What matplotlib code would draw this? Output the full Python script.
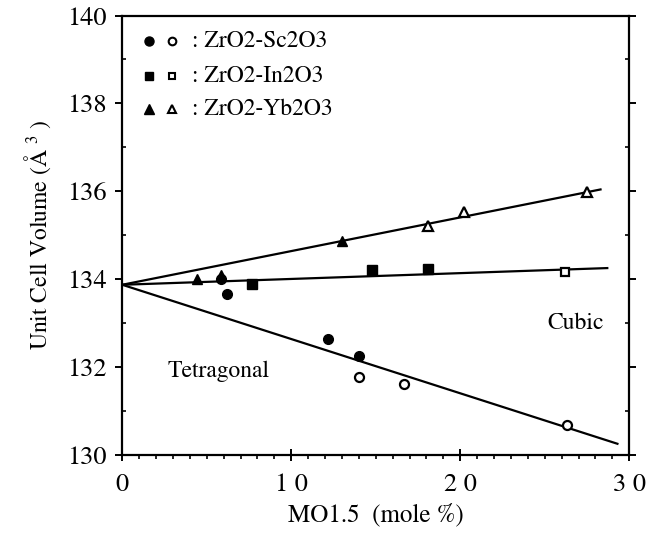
"""Unit cell volume vs MO1.5 content for ZrO2-based solid solutions."""
import matplotlib
matplotlib.use("Agg")
import matplotlib.pyplot as plt
from matplotlib.ticker import MultipleLocator

plt.rcParams["font.family"] = ["STIXGeneral", "Liberation Serif", "DejaVu Serif"]
plt.rcParams["mathtext.fontset"] = "stix"

# points (filled / open symbols)
SC_FILLED_X = [5.85, 6.2, 12.2, 14.0]
SC_FILLED_Y = [134.00, 133.67, 132.64, 132.25]
SC_OPEN_X = [14.0, 16.7, 26.3]
SC_OPEN_Y = [131.77, 131.60, 130.68]

IN_FILLED_X = [7.7, 14.8, 18.1]
IN_FILLED_Y = [133.89, 134.20, 134.22]
IN_OPEN_X = [26.2]
IN_OPEN_Y = [134.17]

YB_FILLED_X = [4.4, 5.85, 13.0]
YB_FILLED_Y = [133.99, 134.10, 134.86]
YB_OPEN_X = [18.1, 20.2, 27.5]
YB_OPEN_Y = [135.20, 135.52, 135.98]

# fitted lines: start and end points
YB_LINE_X = [0.0, 28.3]
YB_LINE_Y = [133.87, 136.04]
IN_LINE_X = [0.0, 28.7]
IN_LINE_Y = [133.87, 134.25]
SC_LINE_X = [0.0, 29.3]
SC_LINE_Y = [133.87, 130.25]

XTICKS = [0, 10, 20, 30]
XTICK_LABELS = ["0", "1 0", "2 0", "3 0"]
YTICKS = [130, 132, 134, 136, 138, 140]

LEGEND = [("o", ": ZrO2-Sc2O3"), ("s", ": ZrO2-In2O3"), ("^", ": ZrO2-Yb2O3")]

fig = plt.figure(figsize=(6.68, 5.35), dpi=100)
ax = fig.add_axes([0.183, 0.150, 0.759, 0.821])

for lx, ly in ((YB_LINE_X, YB_LINE_Y), (IN_LINE_X, IN_LINE_Y), (SC_LINE_X, SC_LINE_Y)):
    ax.plot(lx, ly, color="black", lw=1.6, zorder=2)

sizes = {"o": 7, "s": 6.5, "^": 7.5}
for mk, fx, fy, ox, oy in (("o", SC_FILLED_X, SC_FILLED_Y, SC_OPEN_X, SC_OPEN_Y),
                           ("s", IN_FILLED_X, IN_FILLED_Y, IN_OPEN_X, IN_OPEN_Y),
                           ("^", YB_FILLED_X, YB_FILLED_Y, YB_OPEN_X, YB_OPEN_Y)):
    ax.plot(fx, fy, mk, ms=sizes[mk], mfc="black", mec="black", zorder=3)
    ax.plot(ox, oy, mk, ms=sizes[mk] - 0.5, mfc="white", mec="black", mew=1.6, zorder=3)

# hand-made legend in the upper left corner
rows_y = [0.941, 0.862, 0.787]
for (mk, label), yy in zip(LEGEND, rows_y):
    ax.plot(0.052, yy, mk, ms=sizes[mk] - 0.5, mfc="black", mec="black",
            transform=ax.transAxes, clip_on=False)
    ax.plot(0.098, yy, mk, ms=sizes[mk] - 1.5, mfc="white", mec="black", mew=1.5,
            transform=ax.transAxes, clip_on=False)
    ax.text(0.138, yy, label, fontsize=17, va="center", ha="left",
            transform=ax.transAxes)

ax.text(26.85, 133.0, "Cubic", fontsize=17, ha="center", va="center")
ax.text(5.7, 131.9, "Tetragonal", fontsize=17, ha="center", va="center")

ax.set_xlim(0, 30)
ax.set_ylim(130, 140)
ax.set_xticks(XTICKS)
ax.set_xticklabels(XTICK_LABELS)
ax.set_yticks(YTICKS)
ax.xaxis.set_minor_locator(MultipleLocator(1))
ax.yaxis.set_minor_locator(MultipleLocator(1))
ax.tick_params(which="major", direction="inout", length=8, width=1.4,
               labelsize=19, pad=6)
ax.tick_params(axis="x", which="major", pad=9)
ax.tick_params(which="minor", direction="out", length=3, width=1.2)
ax.tick_params(axis="y", which="both", right=True)
ax.tick_params(axis="y", which="both", direction="in")
ax.tick_params(axis="y", which="major", left=True, direction="out", length=5)
for s in ax.spines.values():
    s.set_linewidth(1.6)

ax.set_xlabel("MO1.5  (mole %)", fontsize=18, labelpad=5)
ax.set_ylabel(r"Unit Cell Volume (Å $^{3}$ )", fontsize=17, labelpad=10)

fig.savefig("out.png", dpi=100)
